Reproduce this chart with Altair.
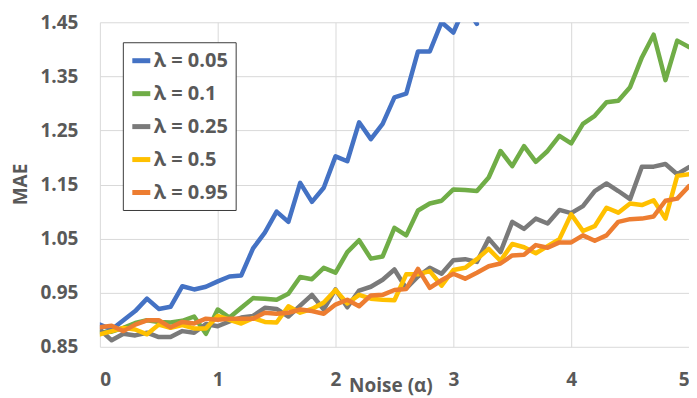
import altair as alt
import pandas as pd

noise = [round(i * 0.1, 1) for i in range(51)]

series_names = ["λ = 0.05", "λ = 0.1", "λ = 0.25", "λ = 0.5", "λ = 0.95"]
series_colors = ["#4472C4", "#70AD47", "#7A7A7A", "#FFC000", "#ED7D31"]

mae_005 = [0.891, 0.882, 0.899, 0.916, 0.939, 0.920, 0.924, 0.962, 0.956, 0.961,
           0.971, 0.980, 0.982, 1.032, 1.061, 1.100, 1.081, 1.153, 1.118, 1.144,
           1.202, 1.193, 1.265, 1.234, 1.262, 1.311, 1.318, 1.396, 1.396, 1.450,
           1.431, 1.480, 1.447]
mae_01 = [0.877, 0.878, 0.885, 0.894, 0.899, 0.896, 0.895, 0.898, 0.906, 0.874,
          0.919, 0.904, 0.922, 0.940, 0.939, 0.937, 0.948, 0.979, 0.975, 0.996,
          0.987, 1.025, 1.047, 1.013, 1.017, 1.070, 1.056, 1.102, 1.115, 1.120,
          1.141, 1.140, 1.138, 1.163, 1.212, 1.184, 1.221, 1.192, 1.212, 1.240,
          1.226, 1.262, 1.277, 1.302, 1.305, 1.330, 1.385, 1.427, 1.343, 1.416,
          1.404]
mae_025 = [0.882, 0.862, 0.874, 0.871, 0.876, 0.868, 0.868, 0.879, 0.876, 0.892,
           0.888, 0.897, 0.904, 0.907, 0.922, 0.920, 0.906, 0.926, 0.946, 0.919,
           0.956, 0.923, 0.954, 0.961, 0.974, 0.993, 0.958, 0.980, 0.996, 0.985,
           1.010, 1.012, 1.007, 1.050, 1.025, 1.081, 1.068, 1.087, 1.078, 1.103,
           1.097, 1.110, 1.138, 1.152, 1.138, 1.123, 1.183, 1.183, 1.188, 1.169,
           1.182]
mae_05 = [0.873, 0.879, 0.885, 0.882, 0.873, 0.891, 0.885, 0.890, 0.884, 0.884,
          0.907, 0.900, 0.893, 0.903, 0.896, 0.895, 0.925, 0.913, 0.920, 0.932,
          0.955, 0.930, 0.946, 0.939, 0.937, 0.936, 0.984, 0.984, 0.990, 0.963,
          0.992, 0.996, 1.012, 1.031, 1.009, 1.040, 1.034, 1.023, 1.036, 1.049,
          1.095, 1.064, 1.073, 1.107, 1.098, 1.115, 1.112, 1.121, 1.087, 1.166,
          1.169]
mae_095 = [0.886, 0.889, 0.879, 0.891, 0.899, 0.899, 0.886, 0.896, 0.893, 0.902,
           0.900, 0.902, 0.902, 0.902, 0.913, 0.911, 0.913, 0.919, 0.916, 0.911,
           0.928, 0.937, 0.925, 0.945, 0.946, 0.955, 0.957, 0.994, 0.959, 0.973,
           0.985, 0.976, 0.987, 0.999, 1.004, 1.019, 1.020, 1.038, 1.033, 1.043,
           1.043, 1.056, 1.046, 1.056, 1.081, 1.086, 1.087, 1.091, 1.120, 1.124,
           1.147]

y_ticks = [0.85, 0.95, 1.05, 1.15, 1.25, 1.35, 1.45]
x_ticks = [0, 1, 2, 3, 4, 5]

rows = []
for name, vals in zip(series_names, [mae_005, mae_01, mae_025, mae_05, mae_095]):
    for x, v in zip(noise, vals):
        rows.append({"noise": x, "mae": v, "series": name})
df = pd.DataFrame(rows)

TXT = "#595959"
FONT = "Open Sans"

chart = alt.Chart(df).mark_line(
    strokeWidth=4.5, strokeJoin="round", strokeCap="round", clip=True
).encode(
    x=alt.X("noise:Q",
            scale=alt.Scale(domain=[0, 5], nice=False),
            axis=alt.Axis(values=x_ticks, format="d", title="Noise (α)",
                          titleX=291, titleY=45, titleBaseline="alphabetic",
                          titleAlign="center", labelPadding=24)),
    y=alt.Y("mae:Q",
            scale=alt.Scale(domain=[0.85, 1.45], nice=False, zero=False),
            axis=alt.Axis(values=y_ticks, format=".2f", title="MAE",
                          titleAngle=270, titleX=-79, titleY=162,
                          titleBaseline="middle", titleAlign="center",
                          labelPadding=22)),
    color=alt.Color("series:N",
                    scale=alt.Scale(domain=series_names, range=series_colors),
                    legend=alt.Legend(orient="none", legendX=23, legendY=20,
                                      title=None, symbolType="stroke",
                                      symbolStrokeWidth=5, symbolSize=324,
                                      labelFont=FONT, labelFontSize=20,
                                      labelFontWeight="bold", labelColor=TXT,
                                      labelOffset=1, padding=7, rowPadding=11,
                                      strokeColor="#3b3b3b", fillColor="white")),
).properties(
    width=590, height=325,
    autosize=alt.AutoSizeParams(type="none"),
    padding={"left": 92, "top": 14, "right": 0, "bottom": 52},
).configure_view(
    stroke=None
).configure_axis(
    domain=False, ticks=False,
    grid=True, gridColor="#d9d9d9", gridWidth=1,
    labelFont=FONT, labelFontSize=19, labelFontWeight="bold", labelColor=TXT,
    titleFont=FONT, titleFontSize=19, titleFontWeight="bold", titleColor=TXT,
)

chart.save("out.html", embed_options={"renderer": "svg", "actions": False})
